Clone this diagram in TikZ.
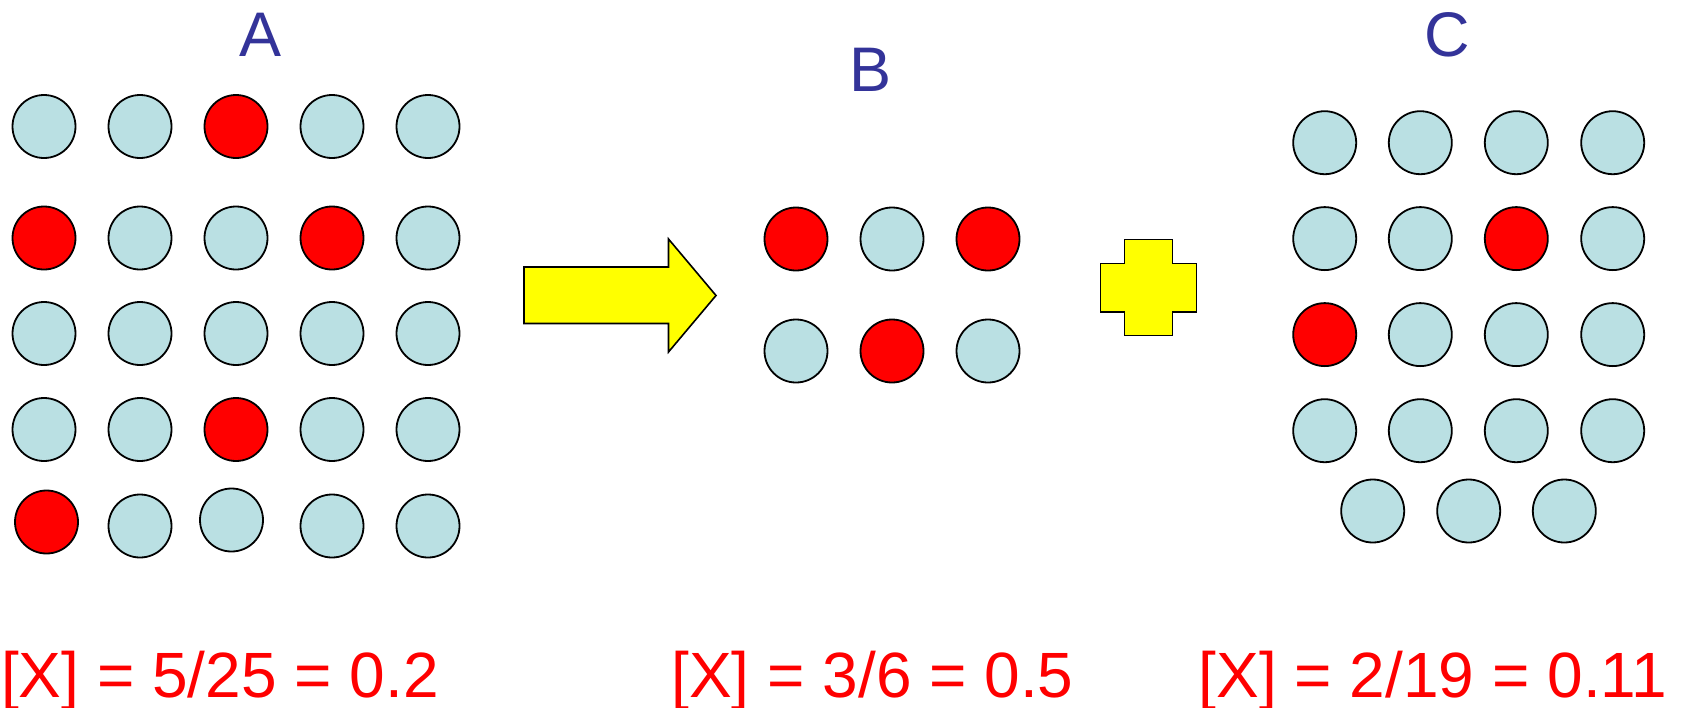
\documentclass[tikz,border=0pt]{standalone}
\usepackage{fontspec}
\setmainfont{Liberation Sans}
\definecolor{dotblue}{HTML}{BAE0E3}
\definecolor{dotred}{HTML}{FF0000}
\definecolor{labelblue}{HTML}{333399}
\definecolor{shapeyellow}{HTML}{FFFF00}
\tikzset{
  dot/.style={circle, draw=black, line width=1.8pt, minimum size=63pt, inner sep=0pt, fill=dotblue},
  reddot/.style={dot, fill=dotred},
  grouplabel/.style={text=labelblue, font=\fontsize{63}{63}\selectfont, inner sep=0pt, anchor=base},
  ratio/.style={text=dotred, font=\fontsize{64}{64}\selectfont, inner sep=0pt, anchor=base},
  yshape/.style={draw=black, line width=1.6pt, fill=shapeyellow, line join=miter}
}
\begin{document}
\begin{tikzpicture}[x=1pt, y=-1pt]
\useasboundingbox (0,0) rectangle (1683,707);
% labels
\node[grouplabel] (labA) at (261,56) {A};
\node[grouplabel] (labB) at (870,91) {B};
\node[grouplabel] (labC) at (1447,56) {C};
% group A
\node[dot]    (a11) at (44,126.5) {};
\node[dot]    (a12) at (140,126.5) {};
\node[reddot] (a13) at (236,126.5) {};
\node[dot]    (a14) at (332,126.5) {};
\node[dot]    (a15) at (428,126.5) {};
\node[reddot] (a21) at (44,238) {};
\node[dot]    (a22) at (140,238) {};
\node[dot]    (a23) at (236,238) {};
\node[reddot] (a24) at (332,238) {};
\node[dot]    (a25) at (428,238) {};
\node[dot]    (a31) at (44,333.5) {};
\node[dot]    (a32) at (140,333.5) {};
\node[dot]    (a33) at (236,333.5) {};
\node[dot]    (a34) at (332,333.5) {};
\node[dot]    (a35) at (428,333.5) {};
\node[dot]    (a41) at (44,429.5) {};
\node[dot]    (a42) at (140,429.5) {};
\node[reddot] (a43) at (236,429.5) {};
\node[dot]    (a44) at (332,429.5) {};
\node[dot]    (a45) at (428,429.5) {};
\node[reddot] (a51) at (46.5,522) {};
\node[dot]    (a52) at (140,526) {};
\node[dot]    (a53) at (231.5,520) {};
\node[dot]    (a54) at (332,526) {};
\node[dot]    (a55) at (428,526) {};
% arrow
\draw[yshape] (524,267) -- (668.5,267) -- (668.5,239) -- (716,295.5) -- (668.5,352) -- (668.5,323.5) -- (524,323.5) -- cycle;
% group B
\node[reddot] (b11) at (796,239) {};
\node[dot]    (b12) at (892,239) {};
\node[reddot] (b13) at (988,239) {};
\node[dot]    (b21) at (796,351) {};
\node[reddot] (b22) at (892,351) {};
\node[dot]    (b23) at (988,351) {};
% plus
\draw[yshape] (1124.5,239.3) -- (1172.3,239.3) -- (1172.3,263.3) -- (1196.4,263.3) -- (1196.4,311.7) -- (1172.3,311.7) -- (1172.3,335.3) -- (1124.5,335.3) -- (1124.5,311.7) -- (1100.4,311.7) -- (1100.4,263.3) -- (1124.5,263.3) -- cycle;
% group C
\node[dot]    (c11) at (1324.7,142.7) {};
\node[dot]    (c12) at (1420.3,142.7) {};
\node[dot]    (c13) at (1516.3,142.7) {};
\node[dot]    (c14) at (1612.7,142.7) {};
\node[dot]    (c21) at (1324.7,238.6) {};
\node[dot]    (c22) at (1420.3,238.6) {};
\node[reddot] (c23) at (1516.3,238.6) {};
\node[dot]    (c24) at (1612.7,238.6) {};
\node[reddot] (c31) at (1324.7,334.6) {};
\node[dot]    (c32) at (1420.3,334.6) {};
\node[dot]    (c33) at (1516.3,334.6) {};
\node[dot]    (c34) at (1612.7,334.6) {};
\node[dot]    (c41) at (1324.7,430.7) {};
\node[dot]    (c42) at (1420.3,430.7) {};
\node[dot]    (c43) at (1516.3,430.7) {};
\node[dot]    (c44) at (1612.7,430.7) {};
\node[dot]    (c51) at (1372.7,511) {};
\node[dot]    (c52) at (1468.7,511) {};
\node[dot]    (c53) at (1564.3,511) {};
% ratios
\node[ratio] (rA) at (220,697) {[X] = 5/25 = 0.2};
\node[ratio] (rB) at (872.5,697) {[X] = 3/6 = 0.5};
\node[ratio] (rC) at (1433,697) {[X] = 2/19 = 0.11};
\end{tikzpicture}
\end{document}
